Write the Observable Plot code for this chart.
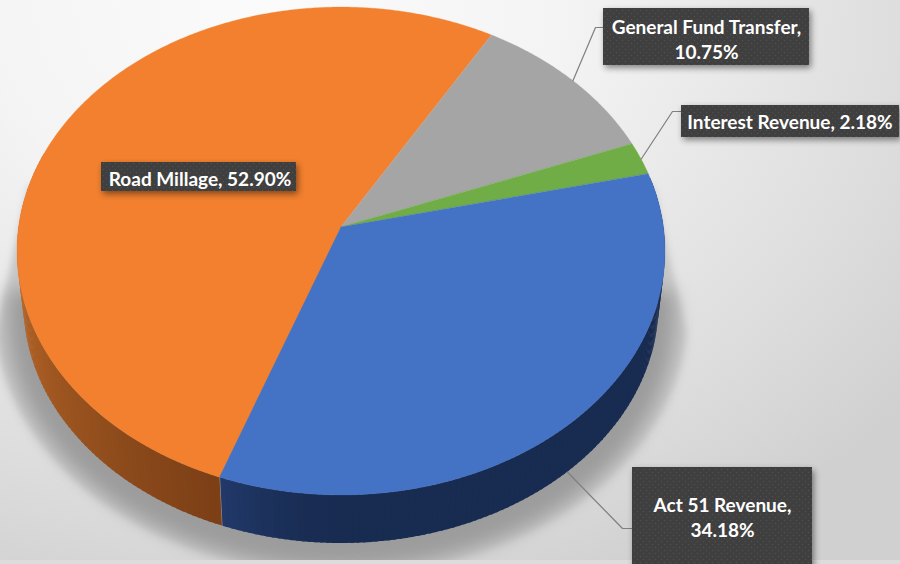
<!DOCTYPE html>
<html>
<head>
<meta charset="utf-8">
<style>
  html, body { margin: 0; padding: 0; width: 900px; height: 564px; overflow: hidden; background: #e4e4e4; }
</style>
<script src="https://cdn.jsdelivr.net/npm/d3@7"></script>
<script src="https://cdn.jsdelivr.net/npm/@observablehq/plot@0.6"></script>
</head>
<body>
<script>
// Revenue sources and their shares, in drawing order clockwise from the first slice angle.
const sources = ["Road Millage", "General Fund Transfer", "Interest Revenue", "Act 51 Revenue"];
const shares = [52.90, 10.75, 2.18, 34.18];
const sliceColors = ["#f2802f", "#a5a5a5", "#70ad47", "#4472c4"];
const shareLabels = ["52.90%", "10.75%", "2.18%", "34.18%"];

// Tilted-disk view: unit disk with foreshortening k, first slice angle, wall height.
const k = 0.0984;
const firstAngle = 200;
const wallDepth = 0.221;
const wallScale = 0.98;
const pxX = 322.4, pxY = 241.6, apexX = 341, apexY = 227;
const W = 900, H = 564;
const ux = (px) => (px - apexX) / pxX;
const uy = (px) => (apexY - px) / pxY;

function rim(deg, scale = 1, drop = 0) {
  const t = (deg * Math.PI) / 180;
  const X = Math.sin(t), Y = Math.cos(t), d = 1 + k * Y;
  return {x: (scale * X) / d, y: (scale * Y) / d - drop};
}

const total = d3.sum(shares);
let running = firstAngle;
const slices = sources.map((name, i) => {
  const a0 = running;
  const a1 = a0 + (shares[i] / total) * 360;
  running = a1;
  return {name, share: shares[i], label: shareLabels[i], color: sliceColors[i], a0, a1, mid: (a0 + a1) / 2};
});

// Top faces: a fan from the apex to the rim.
const topRows = slices.flatMap((s) =>
  [...d3.range(s.a0, s.a1, 0.5), s.a1].map((a) => {
    const p = rim(a);
    return {name: s.name, color: s.color, x2: p.x, y2: p.y};
  })
);

// Side walls, shaded along the rim from narrow bands.
const orangeWall = d3.scaleLinear().domain([200, 235, 272]).range(["#7c3f16", "#9c5520", "#c46c28"]).interpolate(d3.interpolateLab);
const blueWall = d3.scaleLinear().domain([85, 180, 190, 200]).range(["#182b50", "#182b50", "#1b3059", "#22396a"]).interpolate(d3.interpolateLab);
const wallRows = [];
d3.range(78, 288, 1).forEach((a, band) => {
  const color = a >= slices[0].a0 ? orangeWall(Math.min(a, 272)) : blueWall(a);
  const end = a === 199 ? 199.9 : a + 1.4;
  [a, end].forEach((v) => {
    const top = rim(v);
    const bottom = rim(v, wallScale, wallDepth);
    wallRows.push({band, color, x1: top.x, y1: top.y, x2: bottom.x, y2: bottom.y});
  });
});

// Cast shadow: the hull of the disk's silhouette and a wider, lower ellipse, plus a darker core.
const shadowHull = [rim(80, 1.0), ...d3.range(100, 262, 2).map((a) => rim(a, 1.07, 0.25)), rim(280, 1.0)];
const shadowCore = d3.range(90, 272, 2).map((a) => rim(a, 1.03, 0.27));

// Label boxes and their leader knees, placed in pixels around the disk.
const placement = {
  "Road Millage": {box: [101, 296, 162, 191], cx: 199.5, cy: 177, lines: 1},
  "General Fund Transfer": {box: [603, 809, 8, 65], cx: 706, cy: 37.5, lines: 2, knee: [595, 27], end: [603, 27]},
  "Interest Revenue": {box: [681, 899, 105, 137], cx: 789.5, cy: 120.5, lines: 1, knee: [672, 111], end: [681, 111]},
  "Act 51 Revenue": {box: [632, 812, 467, 590], cx: 722, cy: 516, lines: 2, knee: [622, 528], end: [632, 528], drop: true}
};

const boxes = slices.map((s) => {
  const p = placement[s.name];
  return {
    x1: ux(p.box[0]), x2: ux(p.box[1]), y1: uy(p.box[2]), y2: uy(p.box[3]),
    tx: ux(p.cx), ty: uy(p.cy),
    text: `${s.name},${p.lines === 2 ? "\n" : " "}${s.label}`
  };
});

const leaders = slices.filter((s) => placement[s.name].knee).flatMap((s) => {
  const p = placement[s.name];
  const start = rim(s.mid, p.drop ? wallScale : 1, p.drop ? wallDepth : 0);
  return [
    {name: s.name, x: start.x, y: start.y},
    {name: s.name, x: ux(p.knee[0]), y: uy(p.knee[1])},
    {name: s.name, x: ux(p.end[0]), y: uy(p.end[1])}
  ];
});

// Fine dot texture of the label boxes.
function dotPattern() {
  const defs = d3.create("svg:defs");
  const pattern = defs.append("pattern").attr("id", "dots").attr("width", 6).attr("height", 6).attr("patternUnits", "userSpaceOnUse");
  pattern.append("rect").attr("width", 6).attr("height", 6).attr("fill", "#3f3f3f");
  [[1.5, 1.5], [4.5, 4.5]].forEach(([cx, cy]) => pattern.append("circle").attr("cx", cx).attr("cy", cy).attr("r", 0.7).attr("fill", "#505050"));
  return defs.node();
}

const chart = Plot.plot({
  width: W,
  height: H,
  margin: 0,
  x: {domain: [ux(0), ux(W)], range: [0, W], axis: null},
  y: {domain: [uy(0), uy(H)], range: [0, H], axis: null},
  color: {type: "identity"},
  style: {
    background: "radial-gradient(ellipse 820px 640px at 30% 0%, #fbfbfb 0%, #f4f4f4 35%, #dddddd 78%, #d0d0d0 100%)",
    overflow: "hidden"
  },
  marks: [
    dotPattern,
    // Shadow
    Plot.area(shadowHull, {x1: () => 0, y1: () => 0, x2: "x", y2: "y", fill: "#c6c6c6", imageFilter: "blur(3.5px)"}),
    Plot.area(shadowCore, {x1: () => 0, y1: () => 0, x2: "x", y2: "y", fill: "#9c9c9c", imageFilter: "blur(9px)"}),
    // Strip below the plot area, where the shadow stops
    Plot.rect([{}], {x1: ux(0), x2: ux(W), y1: uy(560), y2: uy(H), fill: "#dcdcdc"}),
    // Walls
    Plot.area(wallRows, {x1: "x1", y1: "y1", x2: "x2", y2: "y2", z: "band", fill: "color"}),
    // Top faces
    Plot.area(topRows, {x1: () => 0, y1: () => 0, x2: "x2", y2: "y2", z: "name", fill: "color", stroke: "color", strokeWidth: 0.3}),
    // Leaders
    Plot.line(leaders, {x: "x", y: "y", z: "name", stroke: "#7f7f7f", strokeWidth: 1.2}),
    // Labels
    Plot.rect(boxes, {x1: "x1", x2: "x2", y1: "y1", y2: "y2", fill: "url(#dots)", imageFilter: "drop-shadow(2px 3px 3px rgba(0,0,0,0.45))"}),
    Plot.text(boxes, {x: "tx", y: "ty", text: "text", fill: "white", fontFamily: "Lato", fontWeight: 700, fontSize: 19, lineHeight: 1.32, lineAnchor: "middle"})
  ]
});
document.body.appendChild(chart);
</script>
</body>
</html>
